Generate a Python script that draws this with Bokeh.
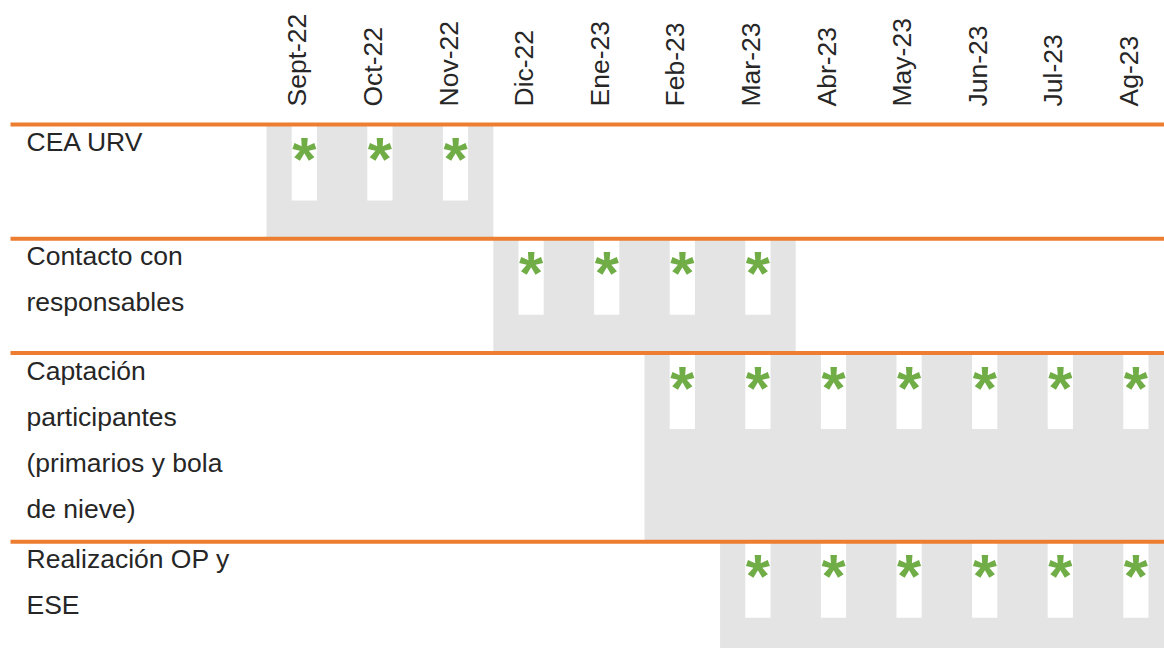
import numpy as np
from bokeh.plotting import figure
from bokeh.models import Range1d
from bokeh.core.properties import value
from bokeh.embed import file_html
from bokeh.resources import INLINE

# ---------------- data ----------------
months = ["Sept-22", "Oct-22", "Nov-22", "Dic-22", "Ene-23", "Feb-23",
          "Mar-23", "Abr-23", "May-23", "Jun-23", "Jul-23", "Ag-23"]

task_lines = [
    ["CEA URV"],
    ["Contacto con", "responsables"],
    ["Captación", "participantes", "(primarios y bola", "de nieve)"],
    ["Realización OP y", "ESE"],
]
task_start = [0, 3, 5, 6]      # index of first month (inclusive)
task_end = [2, 6, 11, 11]      # index of last month (inclusive)
task_marks = [
    ["Sept-22", "Oct-22", "Nov-22"],
    ["Dic-22", "Ene-23", "Feb-23", "Mar-23"],
    ["Feb-23", "Mar-23", "Abr-23", "May-23", "Jun-23", "Jul-23", "Ag-23"],
    ["Mar-23", "Abr-23", "May-23", "Jun-23", "Jul-23", "Ag-23"],
]

# ---------------- layout / style ----------------
W, H = 1164, 648
PAGE = 0
COL = 75.6            # px per month column
COL0 = 266            # page x of first month column
HEADER = 124          # page y of first orange rule
ROW_BASE = 114.3
ROW_EXTRA = 37.2
LINE_H = 46
GREY = "#e4e4e4"
ORANGE = "#ed7d31"
GREEN = "#70ad47"
TXT = "#262626"
FONT = "Liberation Sans"
FS = "26.5px"
AST_FS = 62


def xd(px):
    return (px - COL0) / COL


def yd(py):
    return H + PAGE - py


p = figure(width=W, height=H, output_backend="svg", toolbar_location=None,
           x_range=Range1d(xd(PAGE), xd(PAGE + W)), y_range=Range1d(0, H),
           x_axis_type=None, y_axis_type=None, min_border=0,
           outline_line_color=None, background_fill_color="white",
           border_fill_color="white")

# row tops
tops = []
t = HEADER
for lines in task_lines:
    tops.append(t)
    t += ROW_BASE + max(0, len(lines) - 2) * ROW_EXTRA
bottoms = tops[1:] + [t]

# grey task spans
p.quad(left=task_start, right=[e + 1 for e in task_end],
       top=[yd(v) for v in tops], bottom=[yd(v) for v in bottoms],
       fill_color=GREY, line_color=None)

# white strips + asterisks
wl, wr, wt, wb, ax, ay = [], [], [], [], [], []
for r, marks in enumerate(task_marks):
    for m in marks:
        k = months.index(m)
        wl.append(k + 1 / 3)
        wr.append(k + 2 / 3)
        wt.append(yd(tops[r]))
        wb.append(yd(tops[r] + 76))
        ax.append(k + 0.5)
        ay.append(yd(tops[r] + 34))
p.quad(left=wl, right=wr, top=wt, bottom=wb, fill_color="white", line_color=None)
p.text(x=ax, y=ay, text=["*"] * len(ax), text_font=value(FONT),
       text_font_style="bold", text_font_size=f"{AST_FS}px", text_color=GREEN,
       text_align="center", text_baseline="alphabetic")

# orange rules
p.quad(left=[xd(10)] * len(tops), right=[xd(PAGE + W + 10)] * len(tops),
       top=[yd(v - 2) for v in tops], bottom=[yd(v + 2) for v in tops],
       fill_color=ORANGE, line_color=None)

# month headers
p.text(x=[k + 0.5 - 0.09 for k in range(len(months))], y=[yd(106)] * len(months),
       text=months, angle=np.pi / 2, text_font=value(FONT), text_font_size=FS,
       text_color=TXT, text_align="left", text_baseline="middle")

# row labels
lx, ly, lt = [], [], []
for r, lines in enumerate(task_lines):
    for i, s in enumerate(lines):
        lx.append(xd(26))
        ly.append(yd(tops[r] + 17.5 + i * LINE_H))
        lt.append(s)
p.text(x=lx, y=ly, text=lt, text_font=value(FONT), text_font_size=FS,
       text_color=TXT, text_align="left", text_baseline="alphabetic")

open("out.html", "w").write(file_html(p, INLINE))
